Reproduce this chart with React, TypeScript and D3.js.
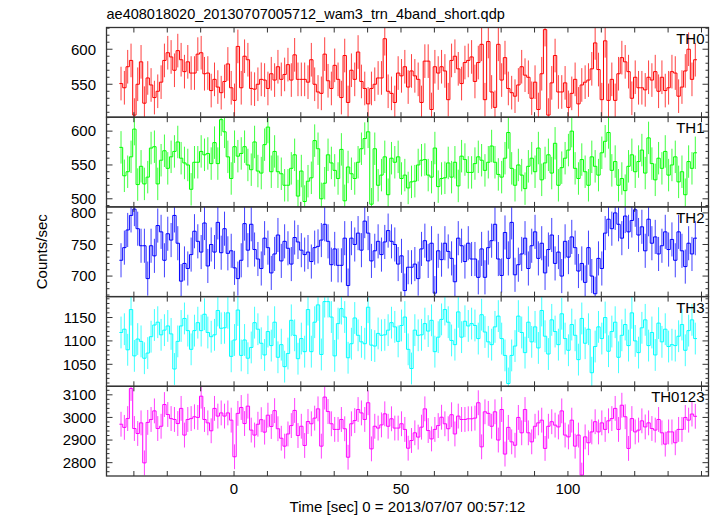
import React from "react";
import * as d3 from "d3";

// ---- data (count rates, 1 s bins) ----
const binStart = -34.35;
const binWidth = 1.0;

const th0 = [
  551,545,575,584,506,550,582,523,559,549,531,540,553,584,595,589,570,598,585,568,582,566,566,593,595,565,566,541,557,546,538,554,579,545,527,604,545,590,585,544,543,550,557,556,544,565,556,575,557,564,578,556,592,557,
  557,557,553,585,550,539,537,593,555,544,577,557,531,591,524,570,557,596,554,544,522,544,550,559,559,615,540,537,524,566,562,575,546,569,562,557,524,583,583,514,575,566,575,569,528,584,590,572,551,581,584,589,554,581,607,528,611,539,517,607,
  556,588,544,538,533,549,575,563,560,530,553,514,565,628,506,552,591,539,539,552,517,537,557,522,549,553,556,572,609,571,528,612,527,557,527,565,588,582,568,530,560,545,545,542,560,556,568,540,560,541,545,568,566,533,546,569,600,557,585,
];
const th1 = [
  576,534,540,562,603,521,548,522,532,575,577,522,557,571,545,562,570,584,560,553,550,514,554,554,570,565,567,552,583,552,617,599,562,530,577,563,567,577,550,543,584,541,538,580,606,540,570,540,
  537,520,520,545,565,504,541,496,526,531,586,574,500,523,565,553,542,530,573,497,547,537,530,554,574,589,599,492,574,520,535,562,506,560,554,562,530,535,516,525,526,550,557,558,535,532,575,518,530,531,553,532,554,519,563,558,539,539,552,562,557,542,554,578,554,536,
  532,560,598,545,520,550,535,515,548,560,540,575,528,553,565,538,582,520,546,560,572,600,545,530,558,540,520,562,548,535,568,585,598,542,555,520,530,512,548,565,540,555,572,538,590,552,528,560,545,570,535,550,562,525,540,506,555,545,568,
];
const th2 = [
  725,745,773,796,806,775,748,748,696,748,732,780,770,725,767,757,796,752,692,720,712,734,771,755,738,784,716,750,738,785,737,775,736,740,713,696,725,783,741,782,742,727,
  712,760,745,705,735,765,
  724,755,744,719,761,754,741,734,738,723,745,747,757,782,755,718,743,717,717,760,685,760,750,768,741,787,768,724,740,755,734,754,772,755,750,719,732,677,714,714,719,696,743,756,724,752,673,740,726,752,739,728,691,760,748,723,752,727,727,698,743,698,745,756,782,727,701,769,728,785,702,718,
  735,760,712,748,770,728,752,705,742,765,720,738,700,755,730,762,745,708,720,690,745,700,672,728,712,768,790,775,800,782,760,795,770,788,805,765,778,740,790,752,762,735,748,770,742,758,725,770,740,715,752,735,760,
];
const th3 = [
  1118,1125,1081,1167,1068,1104,1099,1063,1074,1109,1134,1140,1113,1123,1132,1115,1040,1099,1132,1148,1122,1082,1122,1139,1122,1157,1118,1109,1113,1165,1127,1128,1160,1067,1102,1166,1069,1102,1063,1086,1139,1125,
  1095,1070,1120,1090,1140,1065,
  1092,1045,1073,1144,1112,1062,1105,1077,1167,1077,1140,1177,1071,1184,1184,1151,1068,1137,1169,1151,1064,1094,1149,1112,1098,1094,1172,1091,1089,1116,1112,1113,1123,1139,1130,1099,1133,1151,1082,1041,1123,1112,1113,1137,1121,1144,1077,1108,1146,1167,1140,1101,1092,1162,1108,1142,1132,1137,1133,1105,1156,1119,1098,1092,1130,1153,1105,1069,1009,1069,1089,1153,
  1118,1075,1140,1098,1130,1085,1165,1110,1072,1145,1120,1092,1158,1105,1080,1135,1112,1060,1148,1095,1125,1032,1088,1130,1105,1150,1078,1120,1140,1065,1112,1135,1090,1160,1100,1075,1128,1145,1090,1118,1070,1138,1098,1125,1088,1092,1090,1110,1135,1080,1122,1145,1105,
];
const th0123 = [
  2970,2956,2995,3128,2951,2929,2976,2799,2978,2991,3029,2951,2961,3057,3013,2995,2991,2973,3040,2922,2991,2995,3003,3000,3094,2991,2976,2941,3040,3006,3020,3006,3020,2988,2826,3018,3044,2973,3050,2944,2922,2970,
  2990,2935,3010,2960,3030,2950,
  2908,2873,2927,2964,3031,2920,2961,2876,2982,2972,2997,3038,2873,3090,3026,2972,2947,2947,2991,2950,2824,2972,2986,3035,3020,2991,3065,2861,2961,2953,2967,3016,2961,2994,2953,2953,2972,2947,2864,2898,2932,2913,2957,3038,2942,2905,2947,2964,3001,2972,2950,3012,2927,3006,2991,2991,2994,2994,2997,
  3065,2870,3025,3018,2961,3025,2900,3035,2838,2956,2892,2877,3000,2932,3035,2932,2892,2961,2976,2988,2863,2961,2981,2966,2958,3029,2922,2914,2988,2873,2922,2745,2914,2888,2936,2981,2936,2976,2947,2985,2995,3040,2947,3054,3003,2863,2995,2936,2944,2985,2958,2976,2951,2944,2991,2932,2882,2936,2936,2888,2947,2947,3000,2988,3015,
  3005,
];

const seriesValues = [th0, th1, th2, th3, th0123];
const seriesNames = ["TH0", "TH1", "TH2", "TH3", "TH0123"];
const seriesErrors = [24, 24, 27, 34, 55];
const yDomains: [number, number][] = [
  [503, 631],
  [488, 620.6],
  [667.5, 809.5],
  [1003, 1194.7],
  [2741, 3137.7],
];
const yMajorTicks = [
  [550, 600],
  [500, 550, 600],
  [700, 750, 800],
  [1050, 1100, 1150],
  [2800, 2900, 3000, 3100],
];
const yMinorSteps = [10, 10, 10, 10, 20];
const xDomain: [number, number] = [-38.2, 142.1];
const xTickValues = [-30, -20, -10, 0, 10, 20, 30, 40, 50, 60, 70, 80, 90, 100, 110, 120, 130, 140];
const xLabelValues = [0, 50, 100];

const title = "ae408018020_20130707005712_wam3_trn_4band_short.qdp";
const xTitle = "Time [sec] 0 = 2013/07/07 00:57:12";
const yTitle = "Counts/sec";

// ---- style ----
const colors = ["#ff0000", "#00ff00", "#0000ff", "#00ffff", "#ff00ff"];
const W = 717;
const H = 516;
const left = 106.5;
const right = 708.5;
const top = 27.5;
const bottom = 476;
const font = "'Liberation Sans', Arial, Helvetica, sans-serif";
const axisColor = "#333";

export default function App() {
  const x = d3.scaleLinear().domain(xDomain).range([left, right]);
  const panelH = (bottom - top) / seriesValues.length;

  return (
    <svg
      width={W}
      height={H}
      style={{ position: "absolute", left: 0, top: 0, background: "#fff" }}
      fontFamily={font}
    >
      <rect x={0} y={0} width={W} height={H} fill="#fff" />
      <text x={left} y={19} fontSize={14.5} fill="#000">
        {title}
      </text>
      {seriesValues.map((vals, pi) => {
        const y0 = top + pi * panelH;
        const y1 = y0 + panelH;
        const y = d3.scaleLinear().domain(yDomains[pi]).range([y1, y0]);
        const err = seriesErrors[pi];
        const col = colors[pi];
        const pts: [number, number][] = vals.map((v, i) => [binStart + i * binWidth, v]);
        pts.push([binStart + vals.length * binWidth, vals[vals.length - 1]]);
        const line = d3
          .line<[number, number]>()
          .x((d) => x(d[0]))
          .y((d) => y(d[1]))
          .curve(d3.curveStepAfter);
        const [lo, hi] = yDomains[pi];
        const step = yMinorSteps[pi];
        const minor: number[] = [];
        for (let v = Math.ceil(lo / step) * step; v <= hi; v += step) minor.push(v);
        const clipId = `clip${pi}`;
        return (
          <g key={pi}>
            <clipPath id={clipId}>
              <rect x={left} y={y0} width={right - left} height={panelH} />
            </clipPath>
            <g clipPath={`url(#${clipId})`}>
              {vals.map((v, i) => {
                const cx = x(binStart + (i + 0.5) * binWidth);
                return (
                  <line
                    key={i}
                    x1={cx}
                    x2={cx}
                    y1={y(v - err)}
                    y2={y(v + err)}
                    stroke={col}
                    strokeWidth={1}
                    strokeOpacity={0.75}
                  />
                );
              })}
              <path d={line(pts) || ""} fill="none" stroke={col} strokeWidth={1} />
            </g>
            {/* y ticks */}
            {minor.map((v) => {
              const major = yMajorTicks[pi].includes(v);
              const len = major ? 6 : 3;
              return (
                <g key={v}>
                  <line x1={left} x2={left + len} y1={y(v)} y2={y(v)} stroke={axisColor} strokeWidth={1} />
                  <line x1={right} x2={right - len} y1={y(v)} y2={y(v)} stroke={axisColor} strokeWidth={1} />
                </g>
              );
            })}
            {yMajorTicks[pi].map((v) => (
              <text key={v} x={96} y={y(v) + 5.3} fontSize={15} textAnchor="end" fill="#000">
                {v}
              </text>
            ))}
            {/* x ticks */}
            {xTickValues.map((t) => (
              <g key={t}>
                <line x1={x(t)} x2={x(t)} y1={y0} y2={y0 + 5} stroke={axisColor} strokeWidth={1} />
                <line x1={x(t)} x2={x(t)} y1={y1} y2={y1 - 5} stroke={axisColor} strokeWidth={1} />
              </g>
            ))}
            <rect x={left} y={y0} width={right - left} height={panelH} fill="none" stroke={axisColor} strokeWidth={1.3} />
            <text x={right - 4} y={y0 + 16} fontSize={15} textAnchor="end" fill="#000">
              {seriesNames[pi]}
            </text>
          </g>
        );
      })}
      {xLabelValues.map((t) => (
        <text key={t} x={x(t)} y={494} fontSize={15} textAnchor="middle" fill="#000">
          {t}
        </text>
      ))}
      <text x={(left + right) / 2} y={512} fontSize={15} textAnchor="middle" fill="#000">
        {xTitle}
      </text>
      <text
        transform={`translate(47, ${(top + bottom) / 2}) rotate(-90)`}
        fontSize={15}
        textAnchor="middle"
        fill="#000"
      >
        {yTitle}
      </text>
    </svg>
  );
}
